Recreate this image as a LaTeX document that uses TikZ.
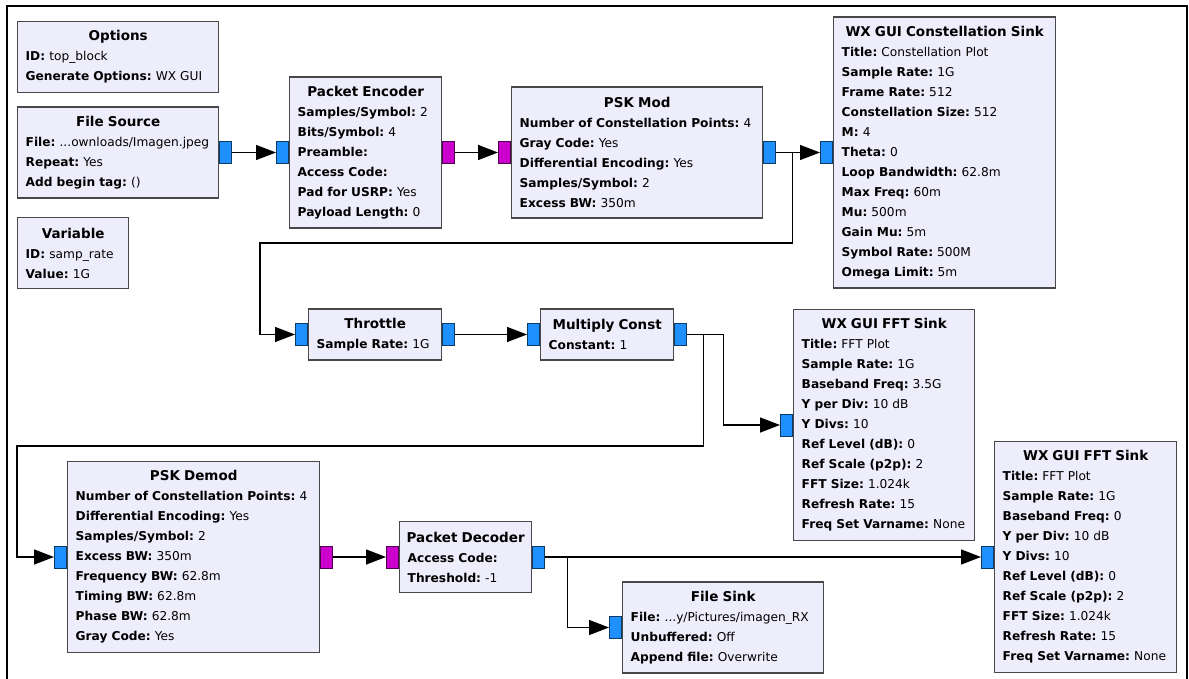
\documentclass[tikz,border=0pt]{standalone}
\usepackage{fontspec}
\setmainfont{DejaVu Sans}
\usetikzlibrary{
    positioning,
    arrows.meta,
    calc
}

\definecolor{blkfill}{RGB}{238,237,252}
\definecolor{blkdraw}{RGB}{72,72,72}
\definecolor{portblue}{RGB}{30,144,255}
\definecolor{portpurple}{RGB}{204,0,204}

\frenchspacing
\newcommand{\paramfont}{\fontsize{12.2}{20}\selectfont\frenchspacing}
\newcommand{\titlefont}{\fontsize{13.5}{20}\selectfont\bfseries}
\newcommand{\blktitle}[1]{\hbox to\hsize{\hss\titlefont #1\hss}}
\newcommand{\prm}[2]{\mbox{\textbf{#1:} #2}}

\begin{document}
\begin{tikzpicture}[
    x=1pt, y=-1pt,
    block/.style={
        rectangle, draw=blkdraw, line width=1.4pt, fill=blkfill,
        anchor=west, align=left, font=\paramfont,
        inner xsep=8pt, inner ysep=0pt
    },
    portbox/.style={
        rectangle, draw=#1!40!black, line width=1pt, fill=#1,
        minimum width=12pt, minimum height=22pt, inner sep=0pt
    },
    arr/.style={-{Triangle[length=20pt,width=15pt]}, line width=1.4pt}
]
\useasboundingbox (0,0) rectangle (1189,679);

% Frame
\draw[line width=2.6pt] (7,690) |- (1187,6) -- (1187,690);

% Settings blocks
\node[block, text width=185pt, minimum height=71pt] (options) at (17,57)
    {\blktitle{Options}\\
     \prm{ID}{top\_block}\\
     \prm{Generate Options}{WX GUI}};
\node[block, text width=95pt, minimum height=71pt] (variable) at (17,253)
    {\blktitle{Variable}\\
     \prm{ID}{samp\_rate}\\
     \prm{Value}{1G}};

% Transmit chain
\node[block, text width=185pt, minimum height=91pt] (fsrc) at (17,152.5)
    {\blktitle{File Source}\\
     \prm{File}{...ownloads/Imagen.jpeg}\\
     \prm{Repeat}{Yes}\\
     \prm{Add begin tag}{()}};
\node[block, text width=136pt, minimum height=151pt] (penc) at (289,152.5)
    {\blktitle{Packet Encoder}\\
     \prm{Samples/Symbol}{2}\\
     \prm{Bits/Symbol}{4}\\
     \prm{Preamble}{}\\
     \prm{Access Code}{}\\
     \prm{Pad for USRP}{Yes}\\
     \prm{Payload Length}{0}};
\node[block, text width=235pt, minimum height=131pt] (pmod) at (511,152.5)
    {\blktitle{PSK Mod}\\
     \prm{Number of Constellation Points}{4}\\
     \prm{Gray Code}{Yes}\\
     \prm{Differential Encoding}{Yes}\\
     \prm{Samples/Symbol}{2}\\
     \prm{Excess BW}{350m}};
\node[block, text width=206pt, minimum height=271pt] (csink) at (833,152.5)
    {\blktitle{WX GUI Constellation Sink}\\
     \prm{Title}{Constellation Plot}\\
     \prm{Sample Rate}{1G}\\
     \prm{Frame Rate}{512}\\
     \prm{Constellation Size}{512}\\
     \prm{M}{4}\\
     \prm{Theta}{0}\\
     \prm{Loop Bandwidth}{62.8m}\\
     \prm{Max Freq}{60m}\\
     \prm{Mu}{500m}\\
     \prm{Gain Mu}{5m}\\
     \prm{Symbol Rate}{500M}\\
     \prm{Omega Limit}{5m}};

% Channel
\node[block, text width=117pt, minimum height=51pt] (thr) at (308,334.5)
    {\blktitle{Throttle}\\
     \prm{Sample Rate}{1G}};
\node[block, text width=117pt, minimum height=51pt] (mul) at (540,334.5)
    {\blktitle{Multiply Const}\\
     \prm{Constant}{1}};
\node[block, text width=165pt, minimum height=231pt] (fft1) at (793,425)
    {\blktitle{WX GUI FFT Sink}\\
     \prm{Title}{FFT Plot}\\
     \prm{Sample Rate}{1G}\\
     \prm{Baseband Freq}{3.5G}\\
     \prm{Y per Div}{10 dB}\\
     \prm{Y Divs}{10}\\
     \prm{Ref Level (dB)}{0}\\
     \prm{Ref Scale (p2p)}{2}\\
     \prm{FFT Size}{1.024k}\\
     \prm{Refresh Rate}{15}\\
     \prm{Freq Set Varname}{None}};

% Receive chain
\node[block, text width=236pt, minimum height=191pt] (pdem) at (67,557)
    {\blktitle{PSK Demod}\\
     \prm{Number of Constellation Points}{4}\\
     \prm{Differential Encoding}{Yes}\\
     \prm{Samples/Symbol}{2}\\
     \prm{Excess BW}{350m}\\
     \prm{Frequency BW}{62.8m}\\
     \prm{Timing BW}{62.8m}\\
     \prm{Phase BW}{62.8m}\\
     \prm{Gray Code}{Yes}};
\node[block, text width=116pt, minimum height=71pt] (pdec) at (399,557)
    {\blktitle{Packet Decoder}\\
     \prm{Access Code}{}\\
     \prm{Threshold}{-1}};
\node[block, text width=185pt, minimum height=91pt] (fsink) at (622,627.5)
    {\blktitle{File Sink}\\
     \prm{File}{...y/Pictures/imagen\_RX}\\
     \prm{Unbuffered}{Off}\\
     \prm{Append file}{Overwrite}};
\node[block, text width=166pt, minimum height=231pt] (fft2) at (994,557)
    {\blktitle{WX GUI FFT Sink}\\
     \prm{Title}{FFT Plot}\\
     \prm{Sample Rate}{1G}\\
     \prm{Baseband Freq}{0}\\
     \prm{Y per Div}{10 dB}\\
     \prm{Y Divs}{10}\\
     \prm{Ref Level (dB)}{0}\\
     \prm{Ref Scale (p2p)}{2}\\
     \prm{FFT Size}{1.024k}\\
     \prm{Refresh Rate}{15}\\
     \prm{Freq Set Varname}{None}};

% Ports
\node[portbox=portblue, right=0pt of fsrc] (fsrc_out) {};
\node[portbox=portblue, left=0pt of penc] (penc_in) {};
\node[portbox=portpurple, right=0pt of penc] (penc_out) {};
\node[portbox=portpurple, left=0pt of pmod] (pmod_in) {};
\node[portbox=portblue, right=0pt of pmod] (pmod_out) {};
\node[portbox=portblue, left=0pt of csink] (csink_in) {};
\node[portbox=portblue, left=0pt of thr] (thr_in) {};
\node[portbox=portblue, right=0pt of thr] (thr_out) {};
\node[portbox=portblue, left=0pt of mul] (mul_in) {};
\node[portbox=portblue, right=0pt of mul] (mul_out) {};
\node[portbox=portblue, left=0pt of fft1] (fft1_in) {};
\node[portbox=portblue, left=0pt of pdem] (pdem_in) {};
\node[portbox=portpurple, right=0pt of pdem] (pdem_out) {};
\node[portbox=portpurple, left=0pt of pdec] (pdec_in) {};
\node[portbox=portblue, right=0pt of pdec] (pdec_out) {};
\node[portbox=portblue, left=0pt of fsink] (fsink_in) {};
\node[portbox=portblue, left=0pt of fft2] (fft2_in) {};

% Branch and turn points
\coordinate (tapA) at ($(pmod_out.east)+(16,0)$);
\coordinate (turnA) at (260,243);
\coordinate (tapB) at ($(mul_out.east)+(16,0)$);
\coordinate (turnB) at (17,446);
\coordinate (tapC) at ($(pdec_out.east)+(22,0)$);

% Arrows
\draw[arr] (fsrc_out) -- (penc_in);
\draw[arr] (penc_out) -- (pmod_in);
\draw[arr] (pmod_out) -- (csink_in);
\draw[arr] (tapA) |- (turnA) |- (thr_in);
\draw[arr] (thr_out) -- (mul_in);
\draw[arr] (mul_out.east) -- ++(36,0) |- (fft1_in);
\draw[arr] (tapB) |- (turnB) |- (pdem_in);
\draw[arr] (pdem_out) -- (pdec_in);
\draw[arr] (pdec_out) -- (fft2_in);
\draw[arr] (tapC) |- (fsink_in);

\end{tikzpicture}
\end{document}
